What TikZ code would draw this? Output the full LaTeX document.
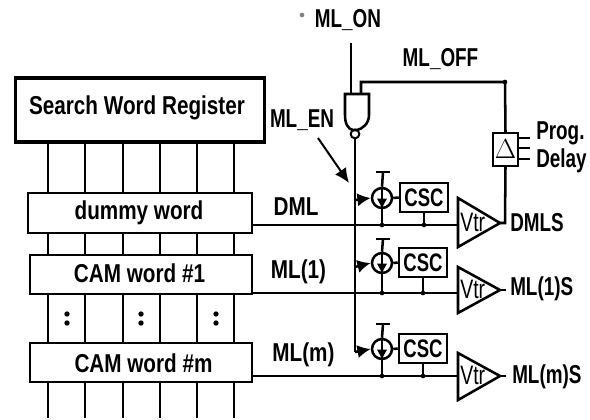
\documentclass[tikz,border=0pt]{standalone}
\usepackage{fontspec}
\setmainfont[FakeStretch=0.80]{Liberation Sans}
\newfontfamily\nar[FakeStretch=0.73]{Liberation Sans}
\usetikzlibrary{arrows.meta}
\tikzset{
  wire/.style={line width=1.9pt},
  thin wire/.style={line width=1.5pt},
  wordbox/.style={draw,line width=1.9pt,fill=white,inner sep=0pt},
  lab/.style={inner sep=0pt,font=\fontsize{19.4}{20}\selectfont\bfseries},
  narlab/.style={inner sep=0pt,font=\fontsize{19.4}{20}\nar\selectfont\bfseries},
  sm/.style={inner sep=0pt,font=\fontsize{20}{20}\nar\selectfont},
  csc/.style={draw,line width=1.9pt,fill=white,minimum width=36pt,minimum height=21.5pt,inner sep=0pt,font=\fontsize{19}{20}\nar\selectfont\bfseries},
  src/.style={draw,circle,line width=1.9pt,fill=white,minimum size=15pt,inner sep=0pt},
  tri/.style={line width=1.9pt,fill=white},
  tip/.style={-{Latex[length=10pt,width=10pt]},wire},
  dotn/.style={circle,fill=black,inner sep=0pt,minimum size=4pt},
}
\begin{document}
\begin{tikzpicture}[x=0.75pt,y=-0.75pt]
\useasboundingbox (0,0) rectangle (590,419);
% bus lines
\foreach \i/\x in {1/48,2/85,3/123,4/160,5/197,6/234}{
  \coordinate (bt\i) at (\x,142);
  \coordinate (bb\i) at (\x,418);
  \draw[wire] (bt\i) -- (bb\i);
}
% word boxes
\node[wordbox,line width=2.4pt,minimum width=187pt,minimum height=48pt] (reg) at (140,110) {};
\node[lab] (regt) at (137,108) {Search Word Register};
\node[wordbox,minimum width=168pt,minimum height=30pt] (dummy) at (140,213) {};
\node[lab] at (139,213) {dummy word};
\node[wordbox,minimum width=166.5pt,minimum height=29.5pt] (cam1) at (141,274.5) {};
\node[lab] at (139.5,273) {CAM word \#1};
\node[wordbox,minimum width=166.5pt,minimum height=29.5pt] (camm) at (141,362.5) {};
\node[lab] at (143.5,363) {CAM word \#m};
% dots between words
\foreach \x in {67,141,216}{
  \node[dotn] (d\x a) at (\x,314) {};
  \node[dotn] (d\x b) at (\x,323) {};
}
% match lines ends
\coordinate (v0) at (457,225);
\coordinate (v1) at (457,293);
\coordinate (vm) at (457,376);
\draw[wire] (252,225) -- (v0);
\draw[wire] (252,293) -- (v1);
\draw[wire] (252,376) -- (vm);
% NAND gate
\coordinate (gin1) at (351,94);
\coordinate (gin2) at (361,94);
\draw[wire,fill=white] (345,94) -- (369,94) -- (369,115) .. controls (369,124) and (362,129) .. (357,130) -- (353,130) .. controls (348,129) and (345,124) .. (345,115) -- cycle;
\node[draw,circle,line width=1.5pt,minimum size=6.5pt,inner sep=0pt] (bub) at (355,134) {};
\coordinate (onend) at (351,43);
\draw[wire] (onend) -- (gin1);
% ML_OFF feedback and delay
\node[draw,line width=1.9pt,fill=white,minimum width=18.5pt,minimum height=24.5pt,inner sep=0pt,font=\fontsize{20}{20}\selectfont] (delay) at (505.5,149.5) {$\Delta$};
\coordinate (fb) at (505,82);
\draw[wire] (gin2) -- (361,82) -- (fb) -- (delay.north);
\node[circle,fill=black,inner sep=0pt,minimum size=3.5pt] at (fb) {};
\foreach \y in {138,148,159}{
  \coordinate (st\y) at (530,\y);
  \draw[thin wire] (518,\y) -- (st\y);
}
% triangles
\draw[tri] (458,198) coordinate (a0) -- (500,223) coordinate (t0) -- (458,247) -- cycle;
\draw[tri] (458,267) coordinate (a1) -- (500,290) coordinate (t1) -- (458,313) -- cycle;
\draw[tri] (458,353) coordinate (am) -- (500,376) coordinate (tm) -- (458,400) -- cycle;
\node[sm,anchor=west] at (460,222) {Vtr};
\node[sm,anchor=west] at (460,289) {Vtr};
\node[sm,anchor=west] at (460,375) {Vtr};
\draw[wire] (delay.south) -- (505,223) -- (t0);
\coordinate (o1) at (506,290);
\coordinate (om) at (506,376);
\draw[wire] (t1) -- (o1);
\draw[wire] (tm) -- (om);
% enable line
\coordinate (em) at (355,352);
\draw[wire] (bub) -- (em);
% current sources
\foreach \n/\yc/\yt/\yb/\ya in {0/198/172/225/200,1/263/239/293/267,m/349/324/376/352}{
  \node[src] (s\n) at (382,\yc) {};
  \coordinate (top\n) at (383,\yt);
  \coordinate (jun\n) at (382,\yb);
  \draw[wire] (top\n) -- (s\n.north);
  \draw[wire] (376,\yt) -- (390,\yt);
  \draw[wire] (s\n.south) -- (jun\n);
  \node[circle,fill=black,inner sep=0pt,minimum size=3.5pt] at (jun\n) {};
  \draw[-{Latex[length=8pt,width=8pt]},thin wire] (s\n.north) -- (s\n.south);
  \draw[tip] (355,\ya) -- (s\n.west);
}
% CSC
\node[csc] (c0) at (424,197.5) {CSC};
\node[csc] (c1) at (423,262.5) {CSC};
\node[csc] (cm) at (423,348.5) {CSC};
\foreach \n/\yb in {0/225,1/293,m/376}{
  \draw[wire] (s\n.east) -- (c\n.west);
  \coordinate (cj\n) at (c\n.south |- 0,\yb);
  \draw[wire] (c\n.south) -- (cj\n);
  \node[circle,fill=black,inner sep=0pt,minimum size=3.5pt] at (cj\n) {};
}
% labels
\node[narlab] at (348,20) {ML\_ON};
\node[circle,fill=gray,inner sep=0pt,minimum size=3.5pt] at (302,15) {};
\node[narlab] at (440.5,59) {ML\_OFF};
\node[narlab] (enl) at (302,120) {ML\_EN};
\coordinate (ena) at (318,138);
\coordinate (enb) at (349,183);
\draw[-{Latex[length=11pt,width=10pt]},thin wire] (ena) -- (enb);
\node[narlab,anchor=west] at (536,133) {Prog.};
\node[narlab,anchor=west] at (536,161) {Delay};
\node[lab] at (296,207) {DML};
\node[lab] at (298.5,272) {ML(1)};
\node[lab] at (303.5,355) {ML(m)};
\node[narlab,anchor=west] at (510,223) {DMLS};
\node[narlab,anchor=west] at (510,289) {ML(1)S};
\node[narlab,anchor=west] at (512,377) {ML(m)S};
\end{tikzpicture}
\end{document}
